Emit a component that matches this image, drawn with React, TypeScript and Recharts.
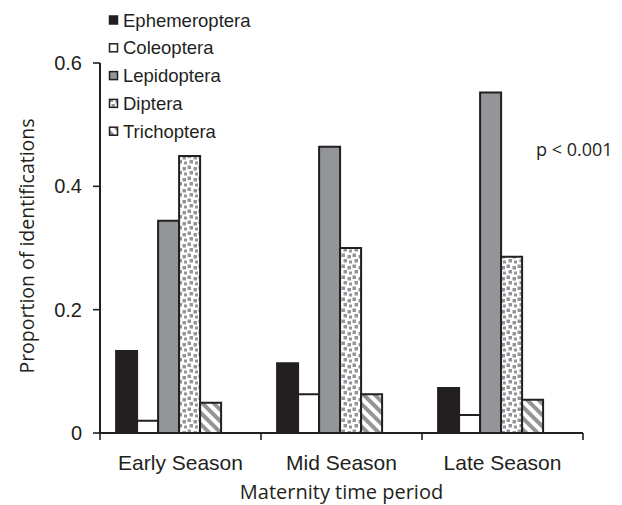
import React from "react";
import { BarChart, Bar, XAxis, YAxis, Legend, Customized } from "recharts";

const periods = ["Early Season", "Mid Season", "Late Season"];
const ephemeroptera = [0.133, 0.113, 0.073];
const coleoptera = [0.02, 0.063, 0.029];
const lepidoptera = [0.344, 0.464, 0.552];
const diptera = [0.449, 0.3, 0.286];
const trichoptera = [0.049, 0.063, 0.054];
const spacer = [0, 0, 0];
const yTicks = [0, 0.2, 0.4, 0.6];
const seriesNames = ["Ephemeroptera", "Coleoptera", "Lepidoptera", "Diptera", "Trichoptera"];
const yTitle = "Proportion of identifications";
const xTitle = "Maternity time period";
const note = "p < 0.001";

const INK = "#231f20";
const GRAY = "#939598";
const SANS = "'Liberation Sans', Arial, sans-serif";
const HUMAN = "'Open Sans', 'Noto Sans', sans-serif";

const data = periods.map((p, i) => ({
  period: p,
  Ephemeroptera: ephemeroptera[i],
  Coleoptera: coleoptera[i],
  Lepidoptera: lepidoptera[i],
  Diptera: diptera[i],
  Trichoptera: trichoptera[i],
  spacer: spacer[i],
}));

const fills: Record<string, string> = {
  Ephemeroptera: INK,
  Coleoptera: "#ffffff",
  Lepidoptera: GRAY,
  Diptera: "url(#dots)",
  Trichoptera: "url(#stripes)",
};

const TICK_SIZE = 7;
const TICK_MARGIN = 15;

const XTick = (props: any) => {
  const { x, y, payload, index, visibleTicksCount } = props;
  const half = payload && typeof payload.offset === "number" ? payload.offset : 0;
  const axisY = y - TICK_SIZE - TICK_MARGIN;
  return (
    <g>
      <line x1={x - half} x2={x - half} y1={axisY} y2={axisY + TICK_SIZE} stroke={INK} strokeWidth={1.6} />
      {index === visibleTicksCount - 1 && (
        <line x1={x + half} x2={x + half} y1={axisY} y2={axisY + TICK_SIZE} stroke={INK} strokeWidth={1.6} />
      )}
      <text x={x} y={y} dy="0.71em" textAnchor="middle" fill={INK} fontFamily={SANS} fontSize={21}>
        {payload.value}
      </text>
    </g>
  );
};

const LegendContent = (props: any) => {
  const list = props.payload || [];
  const items = seriesNames
    .map((n) => list.find((p: any) => p.value === n))
    .filter(Boolean);
  return (
    <svg width={200} height={140} style={{ overflow: "visible" }}>
      {items.map((it: any, i: number) => {
        const cy = 10 + i * 27.8;
        return (
          <g key={it.value}>
            <rect x={0.5} y={cy - 4} width={8} height={8} fill={fills[it.value]} stroke={INK} strokeWidth={1.5} />
            <text x={14} y={cy} dominantBaseline="central" fill={INK} fontFamily={SANS} fontSize={18.5}>
              {it.value}
            </text>
          </g>
        );
      })}
    </svg>
  );
};

const NoteText = () => (
  <text x={536} y={149} dominantBaseline="central" fill={INK} fontFamily={HUMAN} fontSize={18}>
    {note}
  </text>
);

export default function App() {
  return (
    <div style={{ position: "absolute", left: 0, top: 0, width: 622, height: 505, background: "#fff" }}>
      <BarChart
        width={622}
        height={505}
        data={data}
        margin={{ top: 63, right: 39, bottom: 0, left: 0 }}
        barCategoryGap="10%"
        barGap={0}
      >
        <defs>
          <pattern id="dots" patternUnits="userSpaceOnUse" width={11} height={11}>
            <rect x={0} y={0} width={11} height={11} fill="#fff" />
            <rect x={0.5} y={0.5} width={3.5} height={3.5} fill={GRAY} />
            <rect x={6.5} y={2} width={3.5} height={3.5} fill={GRAY} />
            <rect x={2.5} y={6} width={3.5} height={3.5} fill={GRAY} />
            <rect x={8} y={7.5} width={3} height={3} fill={GRAY} />
          </pattern>
          <pattern id="stripes" patternUnits="userSpaceOnUse" width={8} height={8} patternTransform="rotate(-45)">
            <rect x={0} y={0} width={8} height={8} fill="#fff" />
            <rect x={0} y={0} width={4} height={8} fill={GRAY} />
          </pattern>
        </defs>
        <XAxis
          dataKey="period"
          height={72}
          tickLine={false}
          tickSize={TICK_SIZE}
          tickMargin={TICK_MARGIN}
          axisLine={{ stroke: INK, strokeWidth: 2 }}
          tick={<XTick />}
          interval={0}
          label={(p: any) => {
            const vb = p.viewBox || { x: 100, y: 433, width: 483 };
            return (
              <text x={vb.x + vb.width / 2} y={vb.y + 58} textAnchor="middle" dominantBaseline="central" fill={INK} fontFamily={HUMAN} fontSize={20}>
                {xTitle}
              </text>
            );
          }}
        />
        <YAxis
          width={100}
          domain={[0, 0.6]}
          ticks={yTicks}
          interval={0}
          tickSize={TICK_SIZE}
          tickMargin={11}
          tickLine={{ stroke: INK, strokeWidth: 1.6 }}
          axisLine={{ stroke: INK, strokeWidth: 2 }}
          tick={{ fill: INK, fontFamily: SANS, fontSize: 20 }}
          tickFormatter={(v: number) => (v === 0 ? "0" : v.toFixed(1))}
          label={(p: any) => {
            const vb = p.viewBox || { x: 0, y: 63, height: 370 };
            const cx = vb.x + 26;
            const cy = vb.y + vb.height / 2 - 2;
            return (
              <text x={cx} y={cy} textAnchor="middle" dominantBaseline="central" transform={`rotate(-90, ${cx}, ${cy})`} fill={INK} fontFamily={HUMAN} fontSize={19.5}>
                {yTitle}
              </text>
            );
          }}
        />
        <Legend
          layout="vertical"
          align="center"
          verticalAlign="middle"
          wrapperStyle={{ position: "absolute", left: 109, top: 10, width: 200, height: 140 }}
          content={<LegendContent />}
        />
        {seriesNames.map((n) => (
          <Bar key={n} dataKey={n} name={n} fill={fills[n]} stroke={INK} strokeWidth={2} isAnimationActive={false} />
        ))}
        <Bar dataKey="spacer" fill="none" stroke="none" legendType="none" isAnimationActive={false} />
        <Customized component={NoteText} />
      </BarChart>
    </div>
  );
}
